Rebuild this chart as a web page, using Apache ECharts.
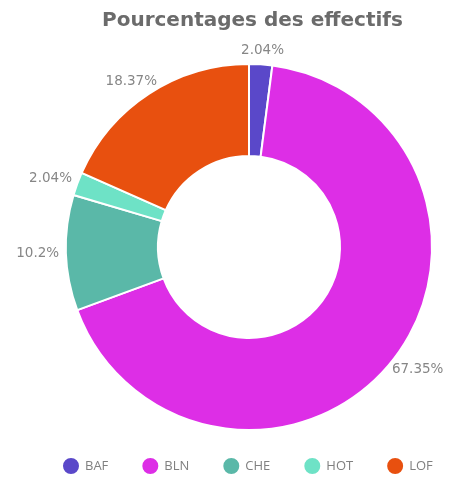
<!DOCTYPE html>
<html>
<head>
<meta charset="utf-8">
<script src="https://cdn.jsdelivr.net/npm/echarts@6/dist/echarts.min.js"></script>
<style>
  html, body { margin: 0; padding: 0; background: #ffffff; }
  #chart { width: 460px; height: 477px; }
</style>
</head>
<body>
<div id="chart"></div>
<script>
// Répartition des effectifs par site (en %)
const categories = ['BAF', 'BLN', 'CHE', 'HOT', 'LOF'];
const percentages = [2.04, 67.35, 10.2, 2.04, 18.37];
const colors = ['#5a48c9', '#dd2ee6', '#5ab8a8', '#6ee2c6', '#e8500f'];

const data = categories.map((name, i) => ({
  name,
  value: percentages[i],
  itemStyle: { color: colors[i] }
}));

const CENTER = [249, 247];
const OUTER = 183;
const INNER = 91;
const LABEL_GAP = 7;

const chart = echarts.init(document.getElementById('chart'), null, { renderer: 'canvas' });
chart.setOption({
  animation: false,
  title: {
    text: 'Pourcentages des effectifs',
    left: 97,
    top: 6,
    textStyle: {
      fontFamily: 'DejaVu Sans',
      fontWeight: 'bold',
      fontSize: 20,
      color: '#6b6b6b'
    }
  },
  legend: {
    data: categories,
    top: 451,
    left: 56,
    icon: 'circle',
    itemWidth: 18,
    itemHeight: 18,
    itemGap: 32,
    textStyle: { fontFamily: 'Open Sans', fontSize: 13, color: '#808080' }
  },
  series: [
    {
      name: 'Effectifs',
      type: 'pie',
      center: CENTER,
      radius: [INNER, OUTER],
      startAngle: 90,
      clockwise: true,
      avoidLabelOverlap: false,
      itemStyle: { borderColor: '#ffffff', borderWidth: 2 },
      label: {
        show: true,
        position: 'inside',
        formatter: p => p.value + '%',
        fontFamily: 'DejaVu Sans',
        fontSize: 13.5,
        color: '#868686'
      },
      labelLine: { show: false },
      // push each label outside the ring, along the slice's mid direction
      labelLayout: params => {
        const r = params.labelRect;
        const lx = r.x + r.width / 2 - CENTER[0];
        const ly = r.y + r.height / 2 - CENTER[1];
        const len = Math.hypot(lx, ly) || 1;
        const dx = lx / len, dy = ly / len;
        const d = OUTER + LABEL_GAP;
        return {
          x: CENTER[0] + dx * d + dx * r.width / 2,
          y: CENTER[1] + dy * d + dy * r.height / 2,
          align: 'center',
          verticalAlign: 'middle'
        };
      },
      data: data
    }
  ]
});
</script>
</body>
</html>
